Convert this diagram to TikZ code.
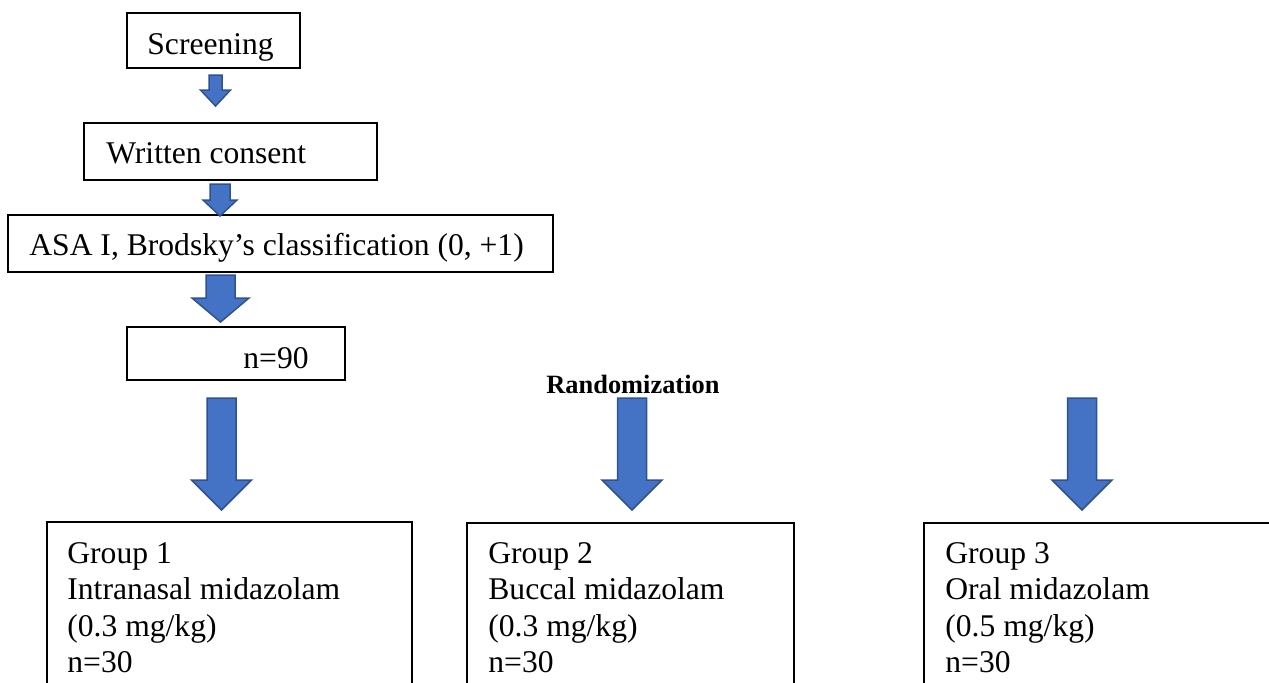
\documentclass[tikz,border=0pt]{standalone}
\usepackage{fontspec}
\setmainfont{Liberation Serif}
\definecolor{arrowfill}{HTML}{4472C4}
\definecolor{arrowline}{HTML}{2F528F}
\newcommand\blockarr[6]{%
  \draw[blockarrow] (#1-#5,#2) -- (#1+#5,#2) -- (#1+#5,#3) -- (#1+#6,#3)
    -- (#1,#4) -- (#1-#6,#3) -- (#1-#5,#3) -- cycle;}
\tikzset{
  boxstyle/.style={draw=black, line width=0.65pt, inner sep=0pt},
  txt/.style={anchor=base west, inner sep=0pt, font=\fontsize{15.8}{19}\selectfont},
  boldtxt/.style={anchor=base west, inner sep=0pt, font=\fontsize{13.2}{16}\selectfont\bfseries},
  blockarrow/.style={fill=arrowfill, draw=arrowline, line width=0.75pt, line join=miter},
}
\begin{document}
\begin{tikzpicture}[x=0.5pt,y=-0.5pt]
\useasboundingbox (0,0) rectangle (1269,682);
\clip (0,0) rectangle (1269,682);
% boxes
\node[boxstyle, minimum width=86.5pt, minimum height=27.5pt] (screen) at (213.5,40.5) {};
\node[boxstyle, minimum width=146.5pt, minimum height=28.5pt] (consent) at (230.5,151.5) {};
\node[boxstyle, minimum width=272.5pt, minimum height=28.5pt] (asa) at (280.5,243.5) {};
\node[boxstyle, minimum width=109pt, minimum height=26.5pt] (n90) at (236,353.5) {};
\node[boxstyle, minimum width=182.5pt, minimum height=99pt] (g1) at (229.5,621) {};
\node[boxstyle, minimum width=163.5pt, minimum height=98.5pt] (g2) at (630.5,621.5) {};
\node[boxstyle, minimum width=188pt, minimum height=98.5pt] (g3) at (1112,621.5) {};
% texts
\node[txt] (tscreen) at (147,54) {Screening};
\node[txt] (tconsent) at (106,163) {Written consent};
\node[txt] (tasa) at (29,255) {ASA I, Brodsky’s classification (0, +1)};
\node[txt] (tn90) at (243,368) {n=90};
\node[boldtxt] (rand) at (546,393) {Randomization};
\foreach \x/\g/\r/\d [count=\i] in {67/1/Intranasal midazolam/0.3, 488/2/Buccal midazolam/0.3, 945/3/Oral midazolam/0.5}{
  \node[txt] (ga\i) at (\x,563.5) {Group \g};
  \node[txt] (gb\i) at (\x,599.8) {\r};
  \node[txt] (gc\i) at (\x,636.1) {(\d\ mg/kg)};
  \node[txt] (gd\i) at (\x,672.4) {n=30};
}
% block arrows
\blockarr{215.5}{75}{90}{106}{6.5}{15}
\blockarr{220}{184}{200}{216}{10}{17}
\blockarr{220.5}{275}{298}{322}{14.5}{28.5}
\blockarr{221.5}{398}{480}{510}{14.5}{30}
\blockarr{632}{398}{480}{510}{14.5}{30}
\blockarr{1082}{398}{480}{510}{14.5}{30}
\end{tikzpicture}
\end{document}
